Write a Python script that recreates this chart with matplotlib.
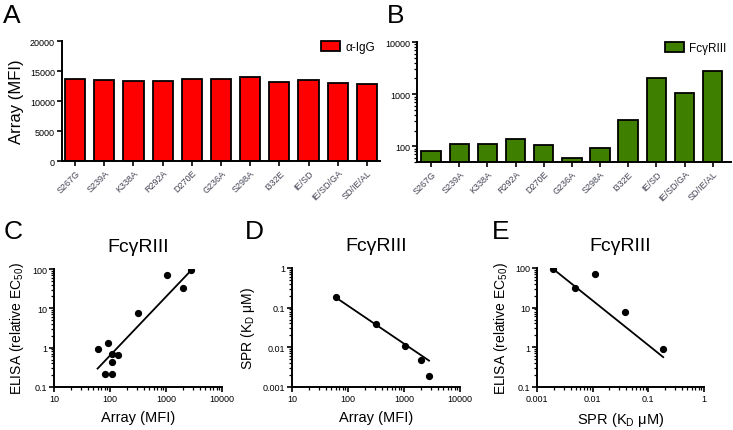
import numpy as np
import matplotlib
matplotlib.use("Agg")
import matplotlib.pyplot as plt
from matplotlib.ticker import LogLocator, NullFormatter, FixedLocator

plt.rcParams['font.family'] = ['Liberation Sans', 'DejaVu Sans']
plt.rcParams['mathtext.default'] = 'regular'

variants = ["S267G", "S239A", "K338A", "R292A", "D270E", "G236A",
            "S298A", "I332E", "IE/SD", "IE/SD/GA", "SD/IE/AL"]
igg_mfi = [13600, 13500, 13330, 13280, 13600, 13600, 13950, 13230, 13560, 13060, 12780]
fcgr3_mfi = [81, 109, 110, 141, 108, 60, 94, 320, 2000, 1050, 2800]
elisa_ec50 = [0.21, 0.70, 0.42, 0.65, 0.22, 0.93, 1.34, 7.6, 32, 69, 94]

# SPR only measured for a subset
spr_variants = ["G236A", "I332E", "IE/SD/GA", "IE/SD", "SD/IE/AL"]
spr_kd = [0.185, 0.0377, 0.0109, 0.0049, 0.00194]

# fitted lines (log10 y = slope * log10 x + intercept)
fit_C = (1.495, -3.190)
fit_D = (-0.956, 0.960)
fit_E = (-1.124, -1.070)

W, H = 733, 431
fig = plt.figure(figsize=(W / 100, H / 100), dpi=100)


def add_ax(x0, y0, x1, y1):
    # pixel box (left, top, right, bottom) -> figure coords
    return fig.add_axes([x0 / W, 1 - y1 / H, (x1 - x0) / W, (y1 - y0) / H])


def style(ax):
    for s in ["top", "right"]:
        ax.spines[s].set_visible(False)
    for s in ["left", "bottom"]:
        ax.spines[s].set_linewidth(1.4)
    ax.tick_params(direction="out", width=1.2, length=3.5, labelsize=6.5, pad=1.5)
    ax.tick_params(which="minor", direction="out", width=0.9, length=2)


def log_minor(axis):
    axis.set_minor_locator(LogLocator(base=10, subs=np.arange(2, 10), numticks=20))
    axis.set_minor_formatter(NullFormatter())


x = np.arange(len(variants))

# ---- A: anti-IgG bars
axA = add_ax(62, 42, 380, 162)
axA.bar(x, igg_mfi, width=0.69, color="#ff0000", edgecolor="black", linewidth=1.3,
        label="\u03b1-IgG")
axA.set_xlim(-0.45, 10.45)
axA.set_ylim(0, 20000)
axA.set_yticks([0, 5000, 10000, 15000, 20000])
axA.set_xticks(x)
axA.set_xticklabels(variants, rotation=45, ha="right", rotation_mode="anchor",
                    fontsize=6.2, color="#444455")
axA.set_ylabel("Array (MFI)", fontsize=12, labelpad=4)
style(axA)
axA.legend(loc="upper right", bbox_to_anchor=(1.02, 1.09), frameon=False, fontsize=8.5,
           handlelength=1.6, handleheight=1.0, handletextpad=0.5)

# ---- B: FcgRIII bars (log)
axB = add_ax(417, 43, 731, 163)
axB.bar(x, fcgr3_mfi, width=0.69, color="#3f7f00", edgecolor="black", linewidth=1.3,
        label="Fc\u03b3RIII")
axB.set_yscale("log")
axB.set_xlim(-0.5, 10.65)
axB.set_ylim(50, 10000)
axB.yaxis.set_major_locator(FixedLocator([100, 1000, 10000]))
axB.set_yticklabels(["100", "1000", "10000"])
log_minor(axB.yaxis)
axB.set_xticks(x)
axB.set_xticklabels(variants, rotation=45, ha="right", rotation_mode="anchor",
                    fontsize=6.2, color="#444455")
style(axB)
axB.legend(loc="upper right", bbox_to_anchor=(1.02, 1.09), frameon=False, fontsize=8.5,
           handlelength=1.6, handleheight=1.0, handletextpad=0.5)


def scatter_panel(ax, xs, ys, fit, xlim, ylim, xlabel, ylabel):
    ax.plot(xs, ys, "o", color="black", markersize=4.2)
    lx = np.log10([min(xs), max(xs)])
    ax.plot(10 ** lx, 10 ** (fit[0] * lx + fit[1]), color="black", linewidth=1.3)
    ax.set_xscale("log")
    ax.set_yscale("log")
    ax.set_xlim(*xlim)
    ax.set_ylim(*ylim)
    xt = [10.0 ** k for k in range(int(np.log10(xlim[0])), int(np.log10(xlim[1])) + 1)]
    yt = [10.0 ** k for k in range(int(np.log10(ylim[0])), int(np.log10(ylim[1])) + 1)]
    ax.xaxis.set_major_locator(FixedLocator(xt))
    ax.yaxis.set_major_locator(FixedLocator(yt))
    ax.set_xticklabels([f"{v:g}" for v in xt])
    ax.set_yticklabels([f"{v:g}" for v in yt])
    log_minor(ax.xaxis)
    log_minor(ax.yaxis)
    style(ax)
    ax.set_xlabel(xlabel, fontsize=10.5, labelpad=5)
    ax.set_ylabel(ylabel, fontsize=10, labelpad=4)
    ax.set_title("Fc\u03b3RIII", fontsize=14, pad=13)


# ---- C: ELISA vs array
axC = add_ax(54, 270, 222, 388)
scatter_panel(axC, fcgr3_mfi, elisa_ec50, fit_C, (10, 10000), (0.1, 100),
              "Array (MFI)", "ELISA (relative EC$_{50}$)")

# ---- D: SPR vs array
spr_mfi = [fcgr3_mfi[variants.index(v)] for v in spr_variants]
spr_elisa = [elisa_ec50[variants.index(v)] for v in spr_variants]
axD = add_ax(292, 269, 460, 388)
scatter_panel(axD, spr_mfi, spr_kd, fit_D, (10, 10000), (0.001, 1),
              "Array (MFI)", "SPR (K$_D$ \u03bcM)")

# ---- E: ELISA vs SPR
axE = add_ax(537, 269, 704, 388)
scatter_panel(axE, spr_kd, spr_elisa, fit_E, (0.001, 1), (0.1, 100),
              "SPR (K$_D$ \u03bcM)", "ELISA (relative EC$_{50}$)")

# panel letters
for lab, px, py in [("A", 3, 4), ("B", 387, 4), ("C", 4, 220), ("D", 245, 220), ("E", 492, 220)]:
    fig.text(px / W, 1 - py / H, lab, fontsize=19, va="top", ha="left")

fig.savefig("out.png", dpi=100)
